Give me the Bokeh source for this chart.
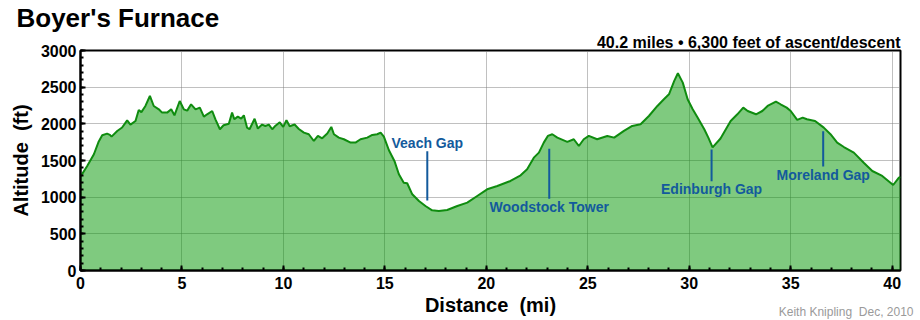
from bokeh.plotting import figure
from bokeh.models import Range1d, FixedTicker, Title
from bokeh.embed import file_html
from bokeh.resources import INLINE
from bokeh.core.properties import value

# ---- data ----
distance_mi = [0.0, 0.33, 0.66, 0.9, 1.07, 1.31, 1.45, 1.53, 1.81, 2.05, 2.30, 2.46, 2.71, 2.87, 3.0,
               3.2, 3.42, 3.61, 3.86, 4.02, 4.27, 4.47, 4.63, 4.89, 5.09, 5.26, 5.45, 5.67, 5.88,
               6.08, 6.24, 6.49, 6.65, 6.87, 7.05, 7.31, 7.47, 7.58, 7.75, 7.92, 8.05, 8.21, 8.33,
               8.58, 8.74, 8.95, 9.11, 9.28, 9.45, 9.61, 9.82, 9.99, 10.15, 10.31, 10.55, 10.76,
               11.01, 11.25, 11.50, 11.70, 11.91, 12.16, 12.36, 12.49, 12.73, 12.98, 13.31, 13.55,
               13.80, 14.13, 14.38, 14.62, 14.79, 14.95, 15.20, 15.47, 15.69, 15.93,
               16.10, 16.35, 16.68, 17.00, 17.33, 17.66, 18.07, 18.57, 19.06, 19.55, 20.04, 20.54,
               21.19, 21.69, 22.01, 22.34, 22.59, 22.83, 23.03, 23.25, 23.50, 23.99, 24.31, 24.56,
               24.80, 25.05, 25.46, 25.96, 26.30, 26.78, 27.19, 27.60, 28.01, 28.43, 28.75, 29.00,
               29.26, 29.44, 29.68, 29.92, 30.17, 30.41, 30.74, 30.94, 31.15, 31.54, 32.04, 32.37,
               32.66, 32.88, 33.29, 33.60, 33.86, 34.27, 34.50, 34.80, 35.00, 35.32, 35.59, 35.80,
               36.20, 36.63, 36.96, 37.29, 37.62, 38.11, 38.60, 39.02, 39.51, 40.05, 40.33, 40.41]
altitude_ft = [1280, 1425, 1585, 1760, 1844, 1866, 1850, 1826, 1903, 1950, 2048, 1990, 2039, 2189, 2160,
               2244, 2380, 2243, 2198, 2153, 2153, 2198, 2116, 2311, 2198, 2180, 2266, 2198, 2221,
               2098, 2130, 2175, 2062, 1926, 1980, 2000, 2153, 2062, 2098, 2070, 2116, 1948, 1926,
               2070, 1935, 1990, 1970, 1990, 1926, 1975, 2021, 1958, 2048, 1967, 1990, 1930,
               1880, 1858, 1766, 1835, 1803, 1867, 1958, 1858, 1812, 1790, 1744, 1744,
               1790, 1812, 1848, 1858, 1880, 1825, 1640, 1494, 1312, 1198,
               1190, 1039, 948, 880, 821, 812, 825, 880, 925, 1016, 1107, 1153,
               1221, 1298, 1380, 1539, 1607, 1744, 1835, 1858, 1812, 1753, 1790, 1698,
               1790, 1835, 1790, 1835, 1812, 1903, 1971, 1994, 2107, 2244, 2335, 2403,
               2585, 2690, 2562, 2335, 2198, 2085, 1926, 1812, 1680, 1800, 2039, 2130,
               2221, 2175, 2130, 2175, 2244, 2303, 2267, 2221, 2175, 2053, 2085, 2062,
               2039, 1948, 1858, 1744, 1684, 1607, 1470, 1357, 1289, 1166, 1266, 1275]

landmark_names = ["Veach Gap", "Woodstock Tower", "Edinburgh Gap", "Moreland Gap"]
landmark_mi = [17.09, 23.10, 31.10, 36.60]
landmark_label_ft = [1732, 863, 1105, 1300]
landmark_top_ft = [1627, 1660, 1650, 1900]
landmark_bottom_ft = [955, 978, 1218, 1418]

x_ticks = [0, 5, 10, 15, 20, 25, 30, 35, 40]
y_ticks = [0, 500, 1000, 1500, 2000, 2500, 3000]

title_text = "Boyer's Furnace"
subtitle_text = "40.2 miles \u2022 6,300 feet of ascent/descent"
credit_text = "Keith Knipling\u00a0 Dec, 2010"
x_label = "Distance\u00a0 (mi)"
y_label = "Altitude\u00a0 (ft)"

FONT = "Liberation Sans"
BLUE = "#135a9c"

p = figure(width=920, height=320, x_range=Range1d(0, 40.41), y_range=Range1d(0, 3000),
           output_backend="svg", toolbar_location=None, title=None,
           min_border_left=80, min_border_right=20, min_border_top=50, min_border_bottom=50)
p.background_fill_color = "white"
p.border_fill_color = "white"
p.outline_line_color = "black"
p.outline_line_width = 2
p.outline_line_alpha = 1

for ax in (p.xaxis[0], p.yaxis[0]):
    ax.axis_line_width = 2
    ax.axis_line_color = "black"
    ax.major_tick_in = 5
    ax.major_tick_out = 0
    ax.minor_tick_in = 3
    ax.minor_tick_out = 0
    ax.major_tick_line_width = 2
    ax.minor_tick_line_width = 2
    ax.major_label_text_font = FONT
    ax.major_label_text_font_style = "bold"
    ax.major_label_text_font_size = "16px"
    ax.major_label_text_color = "black"
    ax.axis_label_text_font = FONT
    ax.axis_label_text_font_style = "bold"
    ax.axis_label_text_font_size = "20px"
    ax.axis_label_text_color = "black"

p.xaxis[0].ticker = FixedTicker(ticks=x_ticks, minor_ticks=list(range(0, 41)))
p.yaxis[0].ticker = FixedTicker(ticks=y_ticks, minor_ticks=list(range(0, 3001, 100)))
p.xaxis[0].major_label_standoff = 6
p.yaxis[0].major_label_standoff = 4
p.xaxis[0].axis_label = x_label
p.yaxis[0].axis_label = y_label
p.xaxis[0].axis_label_standoff = 2
p.yaxis[0].axis_label_standoff = 6

for g in (p.xgrid[0], p.ygrid[0]):
    g.grid_line_color = "#808080"
    g.grid_line_dash = "1 1"
    g.grid_line_width = 1
p.xgrid[0].ticker = FixedTicker(ticks=x_ticks)
p.ygrid[0].ticker = FixedTicker(ticks=y_ticks)

p.varea(x=distance_mi, y1=[0] * len(distance_mi), y2=altitude_ft,
        fill_color="#009600", fill_alpha=0.5)
p.line(distance_mi, altitude_ft, line_color="#0f8c0f", line_width=2)

p.segment(x0=landmark_mi, y0=landmark_bottom_ft, x1=landmark_mi, y1=landmark_top_ft,
          line_color=BLUE, line_width=2)
p.text(x=landmark_mi, y=landmark_label_ft, text=landmark_names,
       text_font=value(FONT), text_font_style="bold", text_font_size="14px",
       text_color=BLUE, text_align="center", text_baseline="middle")

# titles (first added sits nearest the frame)
p.add_layout(Title(text=subtitle_text, align="right", text_font=FONT, text_font_style="bold",
                   text_font_size="16px", text_color="black", standoff=-1), "above")
p.add_layout(Title(text=title_text, align="left", offset=-64, text_font=FONT,
                   text_font_style="bold", text_font_size="26px", text_color="black",
                   standoff=0), "above")
p.add_layout(Title(text=credit_text, align="right", offset=-13, text_font=FONT,
                   text_font_style="normal", text_font_size="12px", text_color="#9a9a9a",
                   vertical_align="top", standoff=-28), "below")

open("out.html", "w").write(file_html(p, INLINE))
